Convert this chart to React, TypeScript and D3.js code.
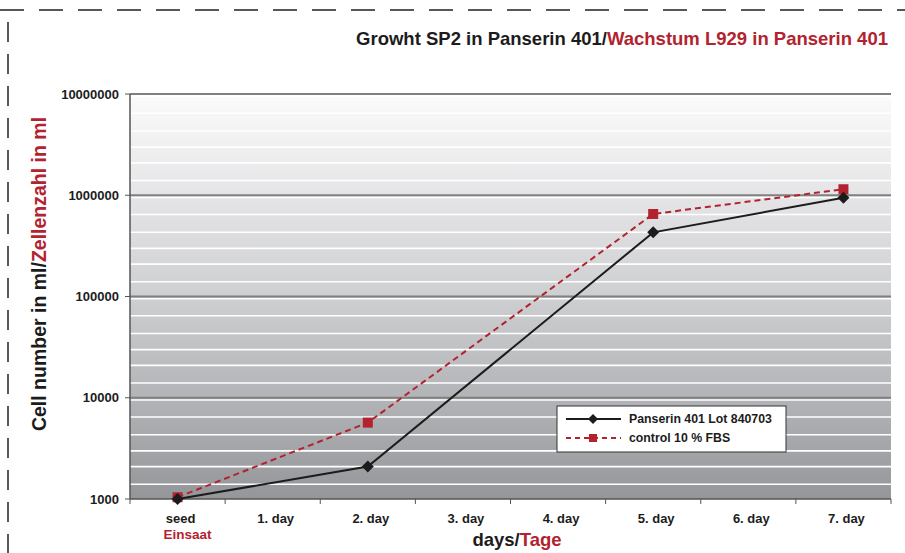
import * as d3 from 'd3';

const categories = ['seed', '1. day', '2. day', '3. day', '4. day', '5. day', '6. day', '7. day'];
const panserinDays = ['seed', '2. day', '5. day', '7. day'];
const panserinValues = [1000, 2090, 430000, 946000];
const controlDays = ['seed', '2. day', '5. day', '7. day'];
const controlValues = [1040, 5680, 653000, 1146000];
const yTicks = [1000, 10000, 100000, 1000000, 10000000];
// where the white stripes of the background fall, as parts of a decade below each major line
const stripeFractions = [0.022, 0.19, 0.365, 0.525, 0.68, 0.855];

const RED = '#b3222f';
const BLACK = '#1c1c1c';
const FONT = '"Liberation Sans", Arial, sans-serif';

const W = 905;
const H = 553;
const plot = { left: 130, right: 891, top: 94, bottom: 499 };

export default function App() {
  const x = d3
    .scaleBand<string>()
    .domain(categories)
    .range([plot.left, plot.right]);
  const y = d3
    .scaleLog()
    .domain([1000, 10000000])
    .range([plot.bottom, plot.top]);

  const cx = (c: string) => (x(c) ?? 0) + x.bandwidth() / 2;

  const line = d3
    .line<[string, number]>()
    .x((d) => cx(d[0]))
    .y((d) => y(d[1]));

  const panserin = panserinDays.map((d, i) => [d, panserinValues[i]] as [string, number]);
  const control = controlDays.map((d, i) => [d, controlValues[i]] as [string, number]);

  const stripes: number[] = [];
  for (let e = 4; e <= 7; e++) {
    stripeFractions.forEach((f) => stripes.push(Math.pow(10, e - f)));
  }

  const diamond = (px: number, py: number, r: number) =>
    `M${px},${py - r}L${px + r},${py}L${px},${py + r}L${px - r},${py}Z`;

  const boundaries = d3.range(categories.length + 1).map((i) => plot.left + i * x.step());

  const legend = { x: 557, y: 406, w: 229, h: 46 };

  return (
    <svg
      width={W}
      height={H}
      style={{ position: 'absolute', left: 0, top: 0, background: '#fff' }}
      fontFamily={FONT}
    >
      <defs>
        <linearGradient id="bg" x1="0" y1="0" x2="0" y2="1">
          <stop offset="0" stopColor="#fbfbfb" />
          <stop offset="0.25" stopColor="#e5e5e7" />
          <stop offset="0.5" stopColor="#cecfd1" />
          <stop offset="0.75" stopColor="#b3b4b7" />
          <stop offset="1" stopColor="#95969a" />
        </linearGradient>
      </defs>

      {/* page frame */}
      <line x1={0} x2={W} y1={10} y2={10} stroke="#222" strokeWidth={1.5} strokeDasharray="24 15" />
      <line x1={8} x2={8} y1={22} y2={H} stroke="#222" strokeWidth={1.5} strokeDasharray="20 12" />

      {/* title */}
      <text x={888} y={45} textAnchor="end" fontSize={18.5} fontWeight="bold" fill={BLACK}>
        Growht SP2 in Panserin 401/<tspan fill={RED}>Wachstum L929 in Panserin 401</tspan>
      </text>

      {/* plot background */}
      <rect
        x={plot.left}
        y={plot.top}
        width={plot.right - plot.left}
        height={plot.bottom - plot.top}
        fill="url(#bg)"
      />
      {stripes.map((v, i) => (
        <line
          key={'s' + i}
          x1={plot.left}
          x2={plot.right}
          y1={y(v)}
          y2={y(v)}
          stroke="#fff"
          strokeWidth={1.6}
        />
      ))}
      {yTicks.slice(1).map((t) => (
        <line
          key={'g' + t}
          x1={plot.left}
          x2={plot.right}
          y1={y(t)}
          y2={y(t)}
          stroke="#808080"
          strokeWidth={2}
        />
      ))}

      {/* y axis */}
      <line x1={plot.left} x2={plot.left} y1={plot.top} y2={plot.bottom} stroke="#555" strokeWidth={1.5} />
      {yTicks.map((t) => (
        <g key={'yt' + t}>
          <line x1={plot.left - 5} x2={plot.left} y1={y(t)} y2={y(t)} stroke="#555" strokeWidth={1} />
          <text
            x={plot.left - 11}
            y={y(t)}
            dy="0.35em"
            textAnchor="end"
            fontSize={13}
            fontWeight="bold"
            fill={BLACK}
          >
            {t}
          </text>
        </g>
      ))}

      {/* x axis */}
      <line x1={plot.left} x2={plot.right} y1={plot.bottom} y2={plot.bottom} stroke="#555" strokeWidth={1.5} />
      {boundaries.map((bx, i) => (
        <line key={'xt' + i} x1={bx} x2={bx} y1={plot.bottom} y2={plot.bottom + 5} stroke="#555" strokeWidth={1} />
      ))}
      {categories.map((c) => (
        <text
          key={'xl' + c}
          x={cx(c) + 3}
          y={523}
          textAnchor="middle"
          fontSize={13}
          fontWeight="bold"
          fill={BLACK}
        >
          {c}
        </text>
      ))}
      <text x={cx('seed') - 14} y={539} textAnchor="start" fontSize={13.5} fontWeight="bold" fill={RED}>
        Einsaat
      </text>
      <text x={517} y={546} textAnchor="middle" fontSize={18.5} fontWeight="bold" fill={BLACK}>
        days/<tspan fill={RED}>Tage</tspan>
      </text>

      {/* y title */}
      <text
        transform={`translate(46,274) rotate(-90)`}
        textAnchor="middle"
        fontSize={19.5}
        fontWeight="bold"
        fill={BLACK}
      >
        Cell number in ml/<tspan fill={RED}>Zellenzahl in ml</tspan>
      </text>

      {/* series */}
      <path d={line(control) ?? ''} fill="none" stroke={RED} strokeWidth={2} strokeDasharray="6 4" />
      <path d={line(panserin) ?? ''} fill="none" stroke={BLACK} strokeWidth={2} />
      {control.map((d) => (
        <rect
          key={'cm' + d[0]}
          x={cx(d[0]) - 5}
          y={y(d[1]) - 5}
          width={10}
          height={10}
          fill={RED}
        />
      ))}
      {panserin.map((d) => (
        <path key={'pm' + d[0]} d={diamond(cx(d[0]), y(d[1]), 6)} fill={BLACK} />
      ))}

      {/* legend */}
      <g>
        <rect x={legend.x} y={legend.y} width={legend.w} height={legend.h} fill="#fff" stroke="#333" strokeWidth={1} />
        <line x1={legend.x + 9} x2={legend.x + 64} y1={legend.y + 13} y2={legend.y + 13} stroke={BLACK} strokeWidth={2} />
        <path d={diamond(legend.x + 36, legend.y + 13, 5)} fill={BLACK} />
        <text x={legend.x + 72} y={legend.y + 13} dy="0.35em" fontSize={12.3} fontWeight="bold" fill={BLACK}>
          Panserin 401 Lot 840703
        </text>
        <line
          x1={legend.x + 9}
          x2={legend.x + 64}
          y1={legend.y + 32}
          y2={legend.y + 32}
          stroke={RED}
          strokeWidth={2}
          strokeDasharray="5 4"
        />
        <rect x={legend.x + 32} y={legend.y + 28} width={8} height={8} fill={RED} />
        <text x={legend.x + 72} y={legend.y + 32} dy="0.35em" fontSize={12.3} fontWeight="bold" fill={BLACK}>
          control 10 % FBS
        </text>
      </g>
    </svg>
  );
}
